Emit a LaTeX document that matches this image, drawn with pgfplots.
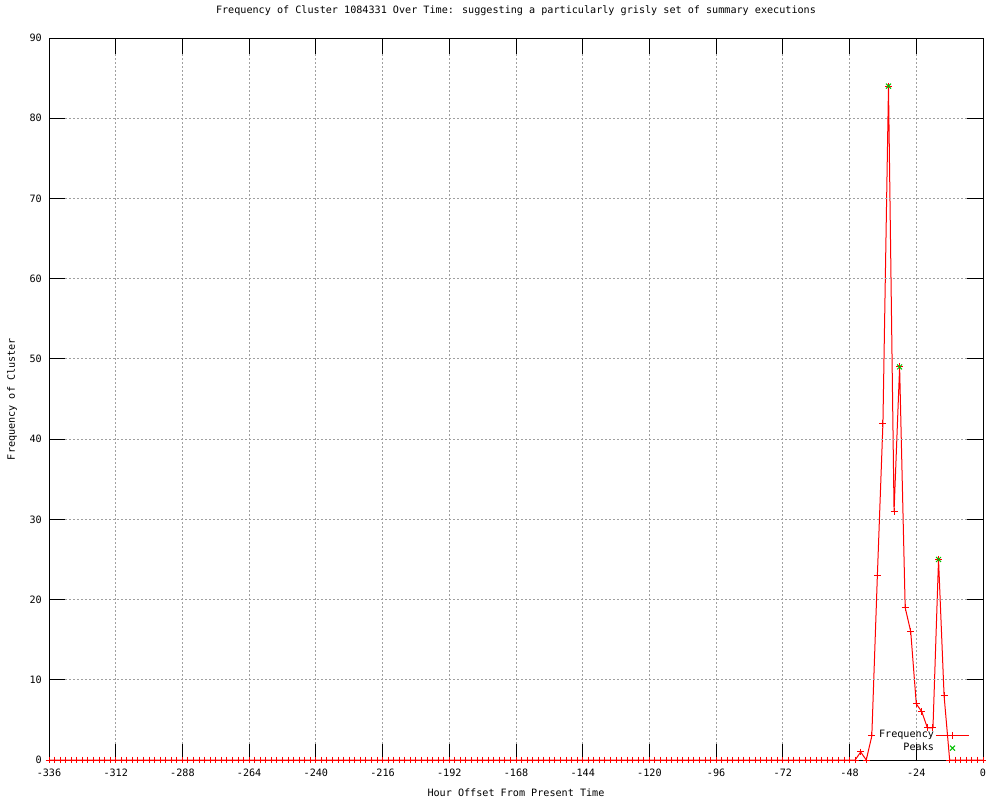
\documentclass[border=0pt]{standalone}
\usepackage{fontspec}
\setmainfont{DejaVu Sans Mono}
\usepackage{pgfplots}
\pgfplotsset{compat=1.18}
\definecolor{gpred}{RGB}{255,0,0}
\definecolor{gpgreen}{RGB}{0,192,0}
\definecolor{gpgrid}{RGB}{160,160,160}
\begin{document}
\begin{tikzpicture}
\path[use as bounding box] (-36.75pt,-30pt) rectangle (713.25pt,570pt);
\begin{axis}[
  at={(0pt,0pt)}, anchor=south west,
  scale only axis, width=700.5pt, height=541.5pt,
  xmin=-336, xmax=0, ymin=0, ymax=90,
  xtick={-336,-312,...,0}, ytick={0,10,...,90},
  grid=major,
  major grid style={gpgrid, line width=0.75pt, dash pattern=on 1.5pt off 1.5pt},
  tick align=inside, major tick length=12pt,
  xtick pos=both, ytick pos=both,
  every tick/.style={black, line width=0.75pt},
  axis line style={black, line width=0.75pt},
  axis on top,
  clip=false,
  font=\fontsize{7.6}{9}\selectfont,
  /pgf/number format/assume math mode=true,
  xticklabel style={anchor=center, inner sep=0pt, yshift=-9.75pt},
  yticklabel style={anchor=east, inner sep=0pt, xshift=-5.25pt},
  title={Frequency of Cluster 1084331 Over Time: suggesting a particularly grisly set of summary executions},
  title style={at={(axis description cs:0.5,1)}, anchor=center, inner sep=0pt, yshift=14.25pt},
  xlabel={Hour Offset From Present Time},
  xlabel style={at={(axis description cs:0.5,0)}, anchor=center, inner sep=0pt, yshift=-24.75pt},
  ylabel={Frequency of Cluster},
  ylabel style={at={(axis description cs:0,0.5)}, anchor=center, inner sep=0pt, rotate=0, yshift=27.75pt},
  legend plot pos=right,
  legend cell align=right,
  legend image code/.code={\draw[mark repeat=2,mark phase=2,#1] plot coordinates {(0pt,0pt) (12.5pt,0pt) (25pt,0pt)};},
  legend style={draw=none, fill=none, at={(0.986,0.043)}, anchor=north east, inner sep=0pt,
    nodes={inner sep=1pt}, row sep=0.5pt, font=\fontsize{7.6}{9}\selectfont},
]
\addplot[color=gpred, line width=0.75pt, mark=+, mark size=2.6pt, mark options={solid, gpred, line width=0.75pt}] coordinates {
(-336,0) (-334,0) (-332,0) (-330,0) (-328,0) (-326,0) (-324,0) (-322,0)
(-320,0) (-318,0) (-316,0) (-314,0) (-312,0) (-310,0) (-308,0) (-306,0)
(-304,0) (-302,0) (-300,0) (-298,0) (-296,0) (-294,0) (-292,0) (-290,0)
(-288,0) (-286,0) (-284,0) (-282,0) (-280,0) (-278,0) (-276,0) (-274,0)
(-272,0) (-270,0) (-268,0) (-266,0) (-264,0) (-262,0) (-260,0) (-258,0)
(-256,0) (-254,0) (-252,0) (-250,0) (-248,0) (-246,0) (-244,0) (-242,0)
(-240,0) (-238,0) (-236,0) (-234,0) (-232,0) (-230,0) (-228,0) (-226,0)
(-224,0) (-222,0) (-220,0) (-218,0) (-216,0) (-214,0) (-212,0) (-210,0)
(-208,0) (-206,0) (-204,0) (-202,0) (-200,0) (-198,0) (-196,0) (-194,0)
(-192,0) (-190,0) (-188,0) (-186,0) (-184,0) (-182,0) (-180,0) (-178,0)
(-176,0) (-174,0) (-172,0) (-170,0) (-168,0) (-166,0) (-164,0) (-162,0)
(-160,0) (-158,0) (-156,0) (-154,0) (-152,0) (-150,0) (-148,0) (-146,0)
(-144,0) (-142,0) (-140,0) (-138,0) (-136,0) (-134,0) (-132,0) (-130,0)
(-128,0) (-126,0) (-124,0) (-122,0) (-120,0) (-118,0) (-116,0) (-114,0)
(-112,0) (-110,0) (-108,0) (-106,0) (-104,0) (-102,0) (-100,0) (-98,0)
(-96,0) (-94,0) (-92,0) (-90,0) (-88,0) (-86,0) (-84,0) (-82,0)
(-80,0) (-78,0) (-76,0) (-74,0) (-72,0) (-70,0) (-68,0) (-66,0)
(-64,0) (-62,0) (-60,0) (-58,0) (-56,0) (-54,0) (-52,0) (-50,0)
(-48,0) (-46,0) (-44,1) (-42,0) (-40,3) (-38,23) (-36,42) (-34,84)
(-32,31) (-30,49) (-28,19) (-26,16) (-24,7) (-22,6) (-20,4) (-18,4)
(-16,25) (-14,8) (-12,0) (-10,0) (-8,0) (-6,0) (-4,0) (-2,0) (0,0)
};
\addlegendentry{Frequency}
\addplot[only marks, color=gpgreen, mark=x, mark size=2.6pt, mark options={solid, gpgreen, line width=0.75pt}] coordinates {
(-34,84) (-30,49) (-16,25)
};
\addlegendentry{Peaks}
\end{axis}
\end{tikzpicture}
\end{document}
